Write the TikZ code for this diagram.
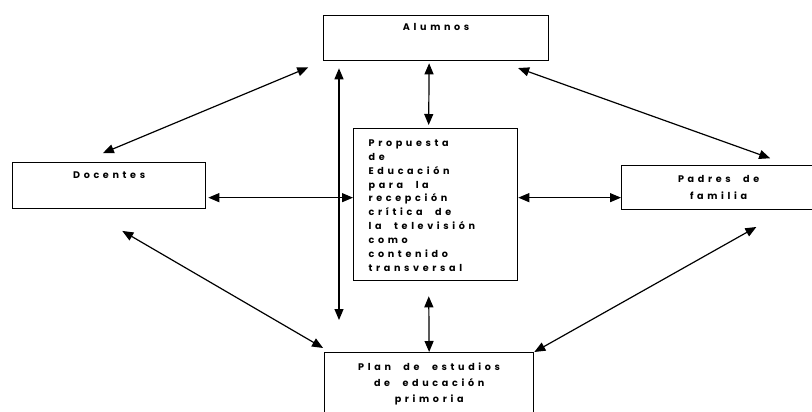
\documentclass[tikz,border=0pt]{standalone}
\usepackage{fontspec}
\setmainfont{Poppins}[LetterSpace=38, WordSpace=2.2]
\usetikzlibrary{arrows.meta}

% texto de una caja: ancho, alto, espacio arriba, interlineado, alineacion, texto
\newcommand{\cajatexto}[6]{\parbox[t][#2][t]{#1}{\fontsize{9.6}{#4}\selectfont\bfseries#5\vspace*{#3}#6}}

\tikzset{
  caja/.style={draw, line width=1.3pt, inner sep=0pt, anchor=north west},
  flecha/.style={{Triangle[length=11pt,width=9pt]}-{Triangle[length=11pt,width=9pt]}, line width=1.2pt},
}

\begin{document}
\begin{tikzpicture}[x=1pt, y=-1pt]
  \clip (0,0) rectangle (812,412);

  \begin{scope}
    \node[caja] (alumnos) at (323,15) {\cajatexto{225pt}{45pt}{8pt}{14pt}{\centering}{Alumnos}};
    \node[caja] (docentes) at (12,162) {\cajatexto{193pt}{46pt}{9pt}{14pt}{\centering}{Docentes}};
    \node[caja] (padres) at (621,165) {\cajatexto{194pt}{44pt}{10pt}{17pt}{\centering}{Padres de\\familia}};
    \node[caja] (propuesta) at (353,128) {\cajatexto{164pt}{152pt}{11pt}{13.9pt}{\raggedright\leftskip=15pt}{%
      Propuesta\\de\\Educación\\para la\\recepción\\crítica de\\la televisión\\como\\contenido\\transversal}};
    \node[caja] (plan) at (324,352) {\cajatexto{209pt}{70pt}{10pt}{16pt}{\centering}{Plan de estudios\\de educación\\primoria}};
  \end{scope}

  \begin{scope}[flecha]
    \draw[shorten <=23pt, shorten >=16pt] ([xshift=-27.5pt]docentes.north) -- (alumnos.south west);
    \draw[shorten <=7pt, shorten >=32pt] ([xshift=16pt]alumnos.south west) -- ([xshift=15pt]plan.north west);
    \draw[shorten <=2pt, shorten >=3pt] ([xshift=-7pt]alumnos.south) -- ([xshift=-7pt]propuesta.north);
    \draw[shorten <=20pt, shorten >=20pt] ([xshift=-50pt]alumnos.south east) -- ([xshift=168pt]padres.north west);
    \draw[shorten <=2pt] ([yshift=-12pt]docentes.east) -- ([yshift=-12pt]docentes.east -| propuesta.west);
    \draw ([yshift=-10pt]padres.west -| propuesta.east) -- ([yshift=-10pt]padres.west);
    \draw[shorten <=15pt] ([xshift=-7pt]propuesta.south) -- (plan.north);
    \draw[shorten <=43pt, shorten >=8pt] ([xshift=-24pt]docentes.south) -- ([xshift=6pt]plan.north west);
    \draw[shorten >=34pt] (plan.north east) -- ([xshift=165pt]padres.south west);
  \end{scope}
\end{tikzpicture}
\end{document}
